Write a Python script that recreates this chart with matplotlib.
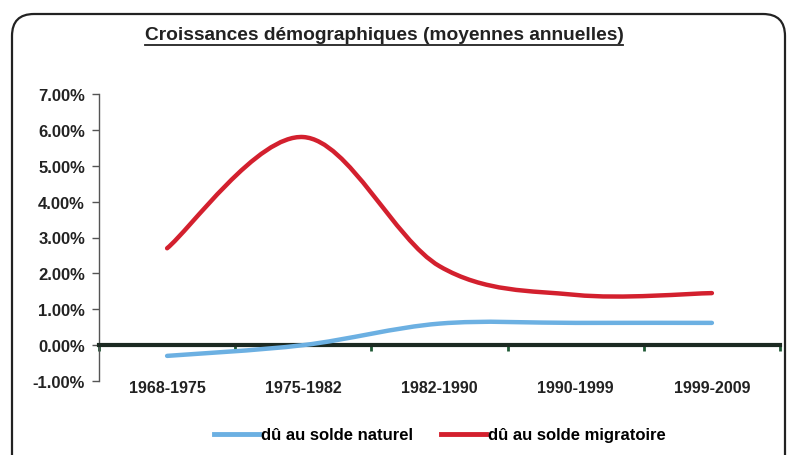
import numpy as np
import matplotlib.pyplot as plt
from matplotlib.path import Path
from matplotlib.patches import PathPatch, FancyBboxPatch
from matplotlib.lines import Line2D
from matplotlib.ticker import FuncFormatter

# donnees (en %)
periodes = ['1968-1975', '1975-1982', '1982-1990', '1990-1999', '1999-2009']
solde_naturel = [-0.30, 0.00, 0.60, 0.62, 0.62]
solde_migratoire = [2.70, 5.80, 2.20, 1.40, 1.45]

bleu = '#6cb0e2'
rouge = '#d3202e'
fonce = '#1c2a22'

plt.rcParams['font.family'] = ['Liberation Sans', 'DejaVu Sans']


def courbe_lissee(xs, ys):
    # courbe lissee facon Excel (Bezier, type Catmull-Rom)
    pts = np.column_stack([xs, ys]).astype(float)
    ext = np.vstack([pts[0], pts, pts[-1]])
    verts = [pts[0]]
    codes = [Path.MOVETO]
    for i in range(len(pts) - 1):
        p0, p1, p2, p3 = ext[i], ext[i + 1], ext[i + 2], ext[i + 3]
        verts += [p1 + (p2 - p0) / 6, p2 - (p3 - p1) / 6, p2]
        codes += [Path.CURVE4] * 3
    return Path(verts, codes)


fig = plt.figure(figsize=(7.89, 4.56), dpi=100)
ax = fig.add_axes([99 / 789, 1 - 382 / 456, 681 / 789, 287 / 456])

x = np.arange(len(periodes))
for vals, col in [(solde_naturel, bleu), (solde_migratoire, rouge)]:
    ax.add_patch(PathPatch(courbe_lissee(x, vals), fill=False, edgecolor=col,
                           lw=3.2, capstyle='round', joinstyle='round', zorder=4))

ax.set_xlim(-0.5, len(periodes) - 0.5)
ax.set_ylim(-1, 7)
ax.set_yticks(range(-1, 8))
ax.yaxis.set_major_formatter(FuncFormatter(lambda v, p: '%.2f%%' % v))

for s in ['top', 'right']:
    ax.spines[s].set_visible(False)
ax.spines['left'].set_color('#555555')
ax.spines['left'].set_linewidth(1.0)
ax.spines['bottom'].set_position(('data', 0))
ax.spines['bottom'].set_color(fonce)
ax.spines['bottom'].set_linewidth(3)
ax.spines['bottom'].set_zorder(3)

ax.set_xticks(np.arange(-0.5, len(periodes)), [''] * (len(periodes) + 1))
ax.set_xticks(x, periodes, minor=True)
ax.tick_params(axis='x', which='major', direction='out', length=4, width=2,
               color='#1f5a36')
ax.tick_params(axis='x', which='minor', length=0, pad=25, labelsize=11.5)
ax.tick_params(axis='y', direction='out', length=5, width=1, color='#555555',
               labelsize=12, pad=5)
for lab in ax.get_xticklabels(minor=True) + ax.get_yticklabels():
    lab.set_fontweight('bold')
    lab.set_color('#222222')

# titre souligne
titre = fig.text(384 / 789, 1 - 36 / 456, 'Croissances démographiques (moyennes annuelles)',
                 ha='center', va='center', fontsize=13.8, fontweight='bold', color='#222222')
fig.canvas.draw()
bb = titre.get_window_extent().transformed(fig.transFigure.inverted())
fig.add_artist(Line2D([bb.x0, bb.x1], [bb.y0 - 0.004, bb.y0 - 0.004],
                      transform=fig.transFigure, color='#222222', lw=1.3))

# cadre arrondi
fig.add_artist(FancyBboxPatch((0.12, -0.5), 7.73, 4.91,
                              boxstyle='round,pad=0,rounding_size=0.22',
                              transform=fig.dpi_scale_trans, fill=False,
                              edgecolor='#222222', lw=1.6))

handles = [Line2D([], [], color=bleu, lw=3.5),
           Line2D([], [], color=rouge, lw=3.5)]
fig.legend(handles, ['dû au solde naturel', 'dû au solde migratoire'],
           loc='center', bbox_to_anchor=(440 / 789, 1 - 436 / 456), ncol=2,
           frameon=False, handlelength=2.7, handletextpad=0.1, columnspacing=1.7,
           prop={'weight': 'bold', 'size': 12})

fig.savefig('out.png', dpi=100)
